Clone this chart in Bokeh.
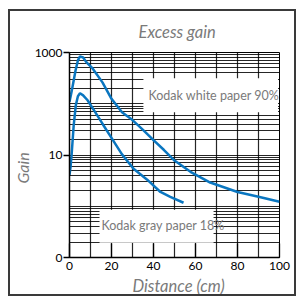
from bokeh.plotting import figure
from bokeh.models import Range1d, FixedTicker, BoxAnnotation, Label, Title
from bokeh.embed import file_html
from bokeh.resources import INLINE

# Kodak white paper 90% (upper curve)
white_x = [0, 0.7, 1.4, 2.9, 4, 5, 6.5, 8, 11, 15.7, 20, 25, 30, 35, 40, 45, 50, 57.6, 67, 80, 90, 100]
white_y = [110, 150, 210, 450, 700, 840, 800, 650, 489, 261, 125, 68, 48, 31, 19.5, 12.5, 7.8, 4.7, 2.9, 1.9, 1.53, 1.22]

# Kodak gray paper 18% (lower curve)
gray_x = [0, 0.5, 1, 2, 3, 4, 5, 6.5, 8.6, 12, 16, 20, 25, 30.5, 37, 43.3, 48, 54.3]
gray_y = [4.1, 5.8, 10, 38, 93, 140, 160, 146, 117, 71, 39, 21.6, 10.3, 5.4, 3.3, 1.9, 1.53, 1.17]

y_ticks = [0.1, 10, 1000]
y_tick_labels = ["0", "10", "1000"]
x_ticks = [0, 20, 40, 60, 80, 100]
x_grid = list(range(0, 101, 10))
y_grid = [m * 10.0 ** k for k in range(-1, 3) for m in range(1, 10)] + [1000]

FONT = "Lato"
LABEL_GRAY = "#7a7a7a"
BLUE = "#0a76c0"

p = figure(width=288, height=287,
           x_range=Range1d(0, 100), y_range=Range1d(0.1, 1000),
           y_axis_type="log", output_backend="svg", toolbar_location=None,
           min_border_left=59, min_border_right=19,
           min_border_top=41, min_border_bottom=41,
           styles={"border": "2px solid #3a3a3a", "margin-left": "8px",
                   "margin-top": "9px"})
p.border_fill_color = "white"

p.title = Title(text="Excess gain", align="left", offset=69, standoff=18,
                vertical_align="top",
                text_font=FONT, text_font_style="italic",
                text_font_size="16.5px", text_color=LABEL_GRAY)

p.add_layout(Title(text="Distance (cm)", align="left", offset=63, standoff=2,
                   text_font=FONT, text_font_style="italic",
                   text_font_size="16.5px", text_color=LABEL_GRAY), "below")
p.add_layout(Title(text="Gain", align="left", offset=74, standoff=0,
                   text_font=FONT, text_font_style="italic",
                   text_font_size="16px", text_color=LABEL_GRAY), "left")

# grids
p.xgrid.ticker = FixedTicker(ticks=x_grid)
p.xgrid.grid_line_color = "black"
p.xgrid.grid_line_width = 1.2
p.xgrid.grid_line_alpha = 0.85
p.ygrid.ticker = FixedTicker(ticks=y_grid)
p.ygrid.grid_line_color = "black"
p.ygrid.grid_line_width = 1
p.ygrid.grid_line_alpha = 0.85
p.outline_line_color = "black"

# axes
p.yaxis.ticker = FixedTicker(ticks=y_ticks)
p.yaxis.major_label_overrides = {t: l for t, l in zip(y_ticks, y_tick_labels)}
p.yaxis.major_tick_out = 6
p.yaxis.major_tick_in = 0
p.yaxis.minor_tick_line_color = None
p.yaxis.major_label_standoff = 1
p.xaxis.ticker = FixedTicker(ticks=x_ticks)
p.xaxis.major_tick_in = 14
p.xaxis.major_tick_out = 0
p.xaxis.minor_tick_line_color = None
p.xaxis.major_label_standoff = 4
for ax in (p.xaxis, p.yaxis):
    ax.axis_line_color = "black"
    ax.axis_line_width = 1.5
    ax.major_tick_line_color = "black"
    ax.major_tick_line_width = 1.3
    ax.major_label_text_font = FONT
    ax.major_label_text_font_size = "12px"
    ax.major_label_text_color = "black"

# white boxes behind the legend texts
p.add_layout(BoxAnnotation(left=35.2, right=99.3, top=313, bottom=68,
                           fill_color="white", fill_alpha=1, line_color=None,
                           level="underlay"))
p.add_layout(BoxAnnotation(left=14.3, right=68.6, top=0.855, bottom=0.195,
                           fill_color="white", fill_alpha=1, line_color=None,
                           level="underlay"))

p.line(white_x, white_y, line_color=BLUE, line_width=2.5)
p.line(gray_x, gray_y, line_color=BLUE, line_width=2.5)

p.add_layout(Label(x=37.6, y=146, text="Kodak white paper 90%",
                   text_font=FONT, text_font_size="12.5px", text_color=LABEL_GRAY,
                   text_align="left", text_baseline="middle"))
p.add_layout(Label(x=15.2, y=0.42, text="Kodak gray paper 18%",
                   text_font=FONT, text_font_size="12.5px", text_color=LABEL_GRAY,
                   text_align="left", text_baseline="middle"))

open("out.html", "w").write(file_html(p, INLINE))
